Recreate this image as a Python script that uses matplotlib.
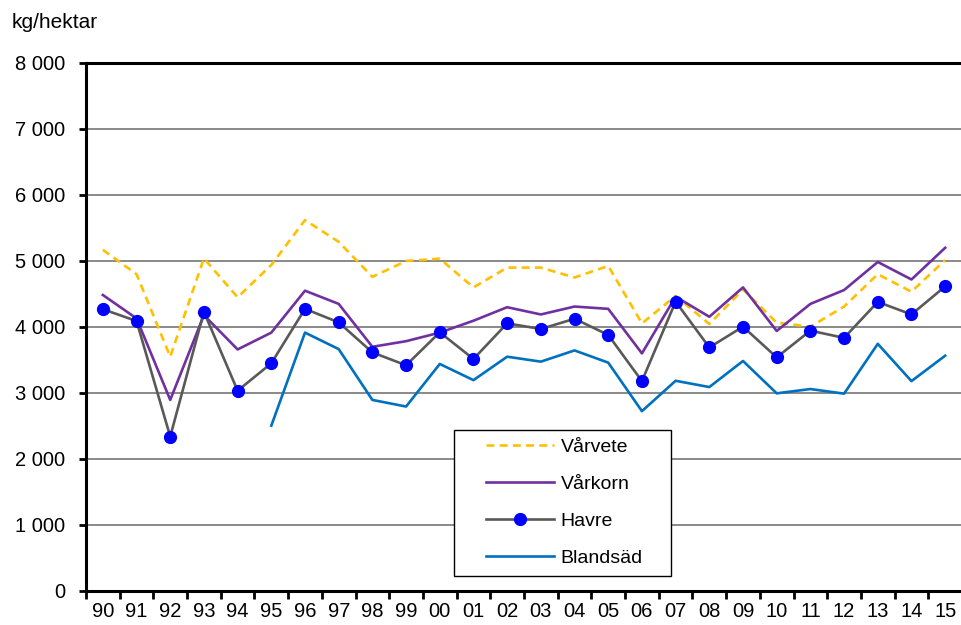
import numpy as np
import matplotlib.pyplot as plt
from matplotlib.legend_handler import HandlerLine2D

plt.rcParams['font.family'] = ['Liberation Sans', 'DejaVu Sans']

years = ["90", "91", "92", "93", "94", "95", "96", "97", "98", "99", "00", "01", "02",
         "03", "04", "05", "06", "07", "08", "09", "10", "11", "12", "13", "14", "15"]

varvete = [5170, 4800, 3550, 5040, 4450, 4940, 5620, 5290, 4760, 5000, 5035, 4600, 4900,
           4900, 4750, 4925, 4055, 4470, 4045, 4570, 4065, 4005, 4310, 4800, 4535, 5015]
varkorn = [4485, 4130, 2895, 4180, 3660, 3915, 4550, 4350, 3700, 3785, 3915, 4095, 4300,
           4190, 4310, 4275, 3600, 4460, 4155, 4600, 3940, 4350, 4560, 4985, 4720, 5200]
havre = [4270, 4090, 2340, 4230, 3035, 3450, 4275, 4070, 3615, 3420, 3920, 3515, 4055,
         3970, 4125, 3880, 3180, 4385, 3690, 4005, 3540, 3945, 3835, 4380, 4190, 4615]
blandsad = [np.nan, np.nan, np.nan, np.nan, np.nan, 2505, 3915, 3665, 2895, 2795, 3440, 3195, 3550,
            3475, 3645, 3460, 2725, 3185, 3090, 3485, 2995, 3060, 2990, 3745, 3180, 3565]

yticks = [0, 1000, 2000, 3000, 4000, 5000, 6000, 7000, 8000]
ytick_labels = ["0", "1 000", "2 000", "3 000", "4 000", "5 000", "6 000", "7 000", "8 000"]

x = np.arange(len(years))

fig = plt.figure(figsize=(9.62, 6.25), dpi=100)
ax = fig.add_axes([86/962, 1-591/625, 1-86/962, (591-63)/625])

ax.plot(x, varvete, color="#FFC000", lw=1.9, ls=(0, (3, 2)), label="Vårvete", zorder=3)
ax.plot(x, varkorn, color="#7030A0", lw=1.9, label="Vårkorn", zorder=3)
ax.plot(x, havre, color="#595959", lw=1.9, marker="o", markersize=8.5,
        markerfacecolor="#0000FF", markeredgecolor="#0000FF", label="Havre", zorder=4)
ax.plot(x, blandsad, color="#0070C0", lw=1.9, label="Blandsäd", zorder=3)

ax.set_xlim(-0.5, len(years) - 0.5)
ax.set_ylim(0, 8000)

ax.set_yticks(yticks)
ax.set_yticklabels(ytick_labels, fontsize=14.5)
ax.yaxis.grid(True, color="#808080", lw=1.3)
ax.set_axisbelow(True)
ax.tick_params(axis="y", direction="out", length=5, width=2, pad=10)

ax.set_xticks(x)
ax.set_xticklabels(years, fontsize=14.5)
ax.set_xticks(np.arange(len(years) + 1) - 0.5, minor=True)
ax.tick_params(axis="x", which="major", length=0, pad=8)
ax.tick_params(axis="x", which="minor", direction="out", length=6, width=2)

for side in ["left", "bottom", "top"]:
    ax.spines[side].set_linewidth(2.2)
    ax.spines[side].set_color("black")
ax.spines["right"].set_visible(False)

fig.text(12/962, 1-22/625, "kg/hektar", fontsize=15, va="center", ha="left")

# legend box ~ x 454-672 px, bottom at 576 px
leg = ax.legend(loc="lower left", bbox_to_anchor=(0.4196, 0.0284, 0.2486, 0.2), mode="expand",
                fontsize=14, frameon=True, fancybox=False, edgecolor="black", framealpha=1,
                handlelength=4.7, handletextpad=0.35, labelspacing=1.0,
                borderpad=0.45, borderaxespad=0,
                handler_map={plt.Line2D: HandlerLine2D(xpad=1.2)})
leg.get_frame().set_linewidth(1.0)

fig.savefig("out.png", dpi=100)
